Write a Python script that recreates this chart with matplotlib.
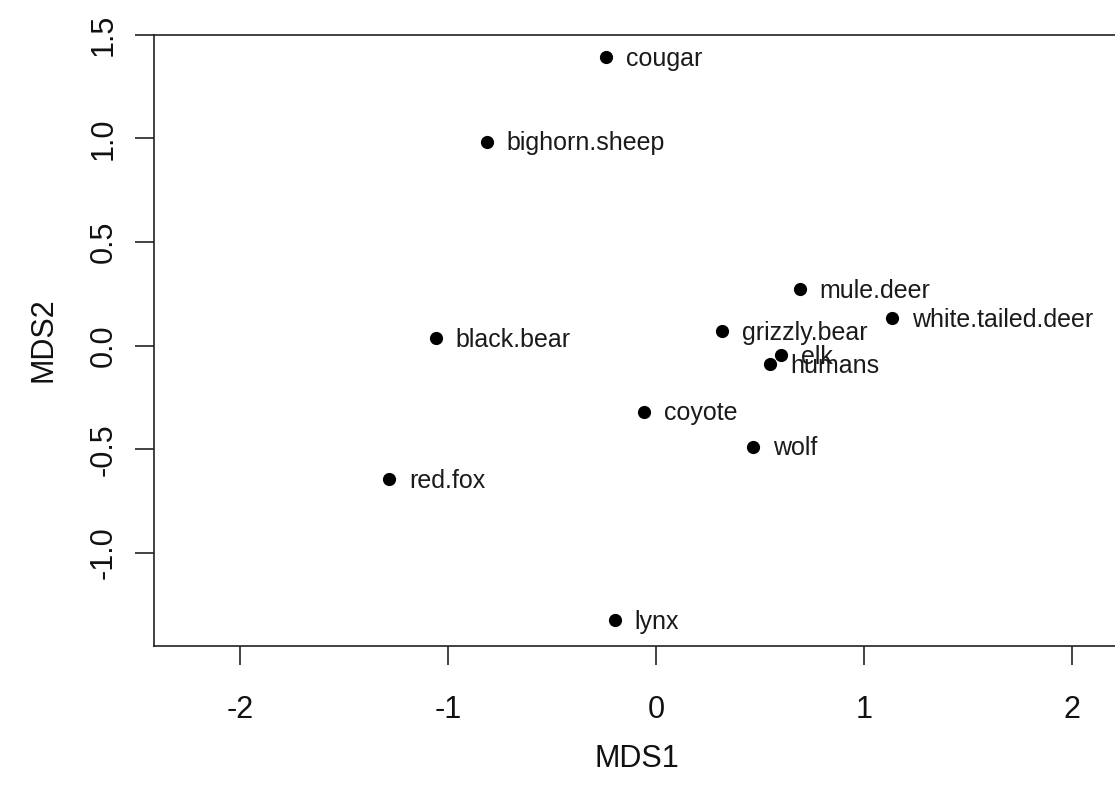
import matplotlib
matplotlib.use("Agg")
import matplotlib.pyplot as plt

species = ["cougar", "bighorn.sheep", "mule.deer", "white.tailed.deer", "grizzly.bear",
           "elk", "humans", "black.bear", "coyote", "wolf", "red.fox", "lynx"]
mds1 = [-0.240, -0.814, 0.692, 1.136, 0.319, 0.604, 0.551, -1.058, -0.056, 0.468, -1.284, -0.197]
mds2 = [1.390, 0.984, 0.272, 0.132, 0.070, -0.045, -0.089, 0.035, -0.319, -0.488, -0.645, -1.324]
xticks = [-2, -1, 0, 1, 2]
yticks = [-1.0, -0.5, 0.0, 0.5, 1.0, 1.5]
ytick_labels = ["-1.0", "-0.5", "0.0", "0.5", "1.0", "1.5"]

plt.rcParams['font.family'] = ['Liberation Sans', 'DejaVu Sans']

fig = plt.figure(figsize=(11.15, 8), dpi=100)
ax = fig.add_axes([0.1381, 0.1929, 0.8668, 0.76375])
ax.scatter(mds1, mds2, s=9.5**2, color='black', zorder=3, linewidths=0)
for name, x, y in zip(species, mds1, mds2):
    ax.annotate(name, (x, y), xytext=(14.4, -6.3), textcoords='offset points',
                ha='left', va='baseline', fontsize=18, color='#1a1a1a')

ax.set_xlim(-2.413, 2.234)
ax.set_ylim(-1.448, 1.5)
ax.set_xticks(xticks)
ax.set_xticklabels([str(t) for t in xticks])
ax.set_yticks(yticks)
ax.set_yticklabels(ytick_labels, rotation=90, va='center')
ax.tick_params(axis='both', length=13.5, width=1.2, color='#222222', labelsize=22, labelcolor='#111111')
ax.tick_params(axis='x', pad=22)
ax.tick_params(axis='y', pad=12)
for sp in ax.spines.values():
    sp.set_linewidth(1.2)
    sp.set_color('#222222')
ax.set_xlabel("MDS1", fontsize=22, labelpad=14, color='#111111')
ax.set_ylabel("MDS2", fontsize=22, labelpad=22, color='#111111')

fig.savefig("out.png", dpi=100)
